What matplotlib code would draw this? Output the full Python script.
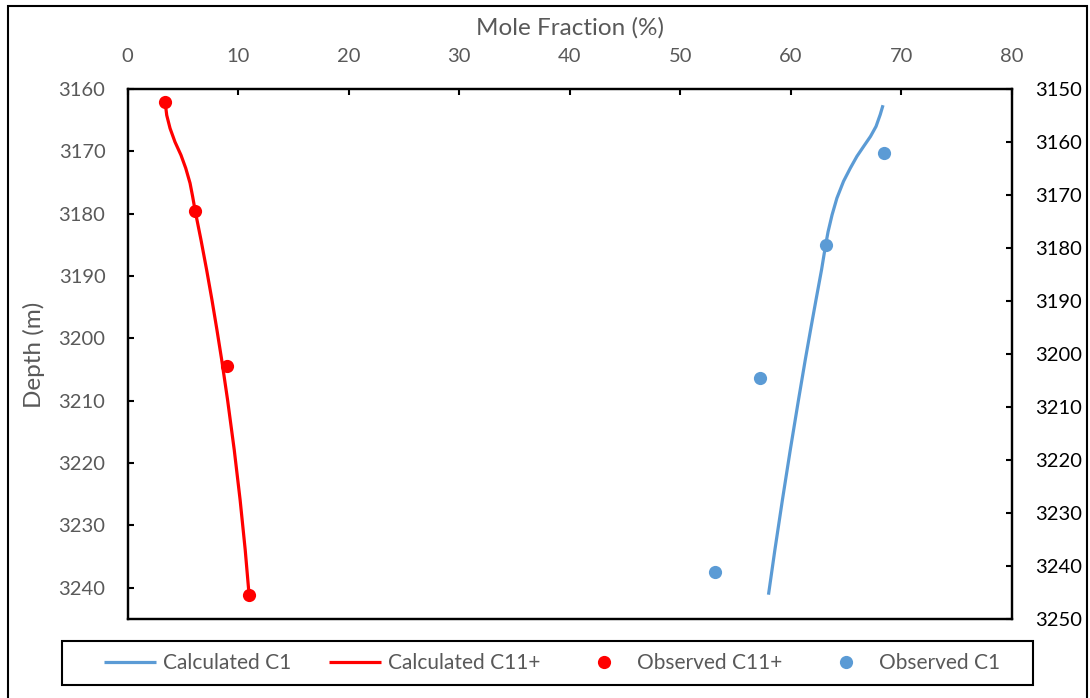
import matplotlib
matplotlib.use("Agg")
import matplotlib.pyplot as plt
from matplotlib.patches import Rectangle

plt.rcParams['font.family'] = ['Lato', 'DejaVu Sans']

# Calculated profiles (depth on the primary axis)
calc_c1_x = [68.33, 68.08, 67.70, 67.20, 66.58, 65.97, 65.37, 64.76, 64.16, 63.72, 63.36, 63.14,
             62.77, 62.27, 61.78, 61.30, 60.69, 59.94, 59.23, 58.55, 57.97]
calc_c1_depth = [3162.6, 3164.1, 3166.0, 3167.6, 3169.2, 3170.8, 3172.7, 3174.8, 3177.5, 3180.2,
                 3182.9, 3185.0, 3189.0, 3193.8, 3198.6, 3203.4, 3209.8, 3217.9, 3225.9, 3233.9,
                 3241.1]

calc_c11_x = [3.38, 3.53, 3.83, 4.28, 4.82, 5.25, 5.64, 5.87, 6.11, 6.63, 7.14, 7.62, 8.07, 8.50,
              9.03, 9.64, 10.17, 10.63, 10.98]
calc_c11_depth = [3162.0, 3164.2, 3166.3, 3168.5, 3170.6, 3172.7, 3175.1, 3177.2, 3179.6, 3184.2,
                  3189.0, 3193.8, 3198.6, 3203.4, 3209.8, 3217.9, 3225.9, 3233.9, 3241.1]

# Observed samples
obs_depth = [3162.1, 3179.5, 3204.5, 3241.1]
obs_c11_x = [3.4, 6.1, 9.0, 11.0]
obs_c1_x = [68.4, 63.2, 57.2, 53.1]

x_ticks = [0, 10, 20, 30, 40, 50, 60, 70, 80]
left_ticks = [3160, 3170, 3180, 3190, 3200, 3210, 3220, 3230, 3240]
right_ticks = [3150, 3160, 3170, 3180, 3190, 3200, 3210, 3220, 3230, 3240, 3250]

BLUE = '#5B9BD5'
RED = '#FF0000'
GRAY = '#595959'

W, H = 1090, 698
fig = plt.figure(figsize=(W / 100, H / 100), dpi=100)

# outer chart border
fig.patches.append(Rectangle((8 / W, -0.01), (1087 - 8) / W, 1.01 - 6 / H,
                             transform=fig.transFigure, fill=False,
                             edgecolor='black', linewidth=1.5))
# legend border
fig.patches.append(Rectangle((62 / W, 1 - 685 / H), (1033 - 62) / W, 44 / H,
                             transform=fig.transFigure, fill=False,
                             edgecolor='black', linewidth=1.5))

ax = fig.add_axes([127.7 / W, 1 - 619 / H, (1012 - 127.7) / W, (619 - 89) / H])
ax2 = ax.twinx()

line_kw = dict(lw=2.3, solid_capstyle='butt', solid_joinstyle='round', zorder=3)
l1, = ax.plot(calc_c1_x, calc_c1_depth, color=BLUE, **line_kw)
l2, = ax.plot(calc_c11_x, calc_c11_depth, color=RED, **line_kw)
m1, = ax.plot(obs_c11_x, obs_depth, 'o', color=RED, ms=9.5, mec='none', zorder=4)
m2, = ax2.plot(obs_c1_x, obs_depth, 'o', color=BLUE, ms=9.5, mec='none', zorder=4)

ax.set_xlim(0, 80)
ax.set_ylim(3245, 3160)
ax2.set_ylim(3250, 3150)
ax.set_xticks(x_ticks)
ax.set_yticks(left_ticks)
ax2.set_yticks(right_ticks)

ax.xaxis.tick_top()
ax.tick_params(axis='x', which='both', top=True, bottom=False, direction='in',
               length=4, width=1.5, pad=17, labelsize=14.5, labelcolor=GRAY)
ax.tick_params(axis='y', direction='in', length=4, width=1.5, pad=16,
               labelsize=14.5, labelcolor=GRAY)
ax2.tick_params(axis='y', direction='in', length=4, width=1.5, pad=17,
                labelsize=14.5, labelcolor='black')

for a in (ax, ax2):
    for s in a.spines.values():
        s.set_linewidth(1.6)
        s.set_color('black')

fig.text(570 / W, 1 - 28 / H, 'Mole Fraction (%)', ha='center', va='center',
         fontsize=17.5, color=GRAY)
fig.text(34 / W, 1 - 355 / H, 'Depth (m)', ha='center', va='center',
         rotation=90, fontsize=17.5, color=GRAY)

handles = [l1, l2, m1, m2]
labels = ['Calculated C1', 'Calculated C11+', 'Observed C11+', 'Observed C1']
leg = fig.legend(handles, labels, loc='center',
                 bbox_to_anchor=(552 / W, 1 - 663 / H),
                 ncol=4, frameon=False, fontsize=15,
                 handlelength=2.5, handletextpad=0.34, columnspacing=1.8,
                 borderpad=0.2, labelcolor=GRAY)

fig.savefig('out.png', dpi=100)
